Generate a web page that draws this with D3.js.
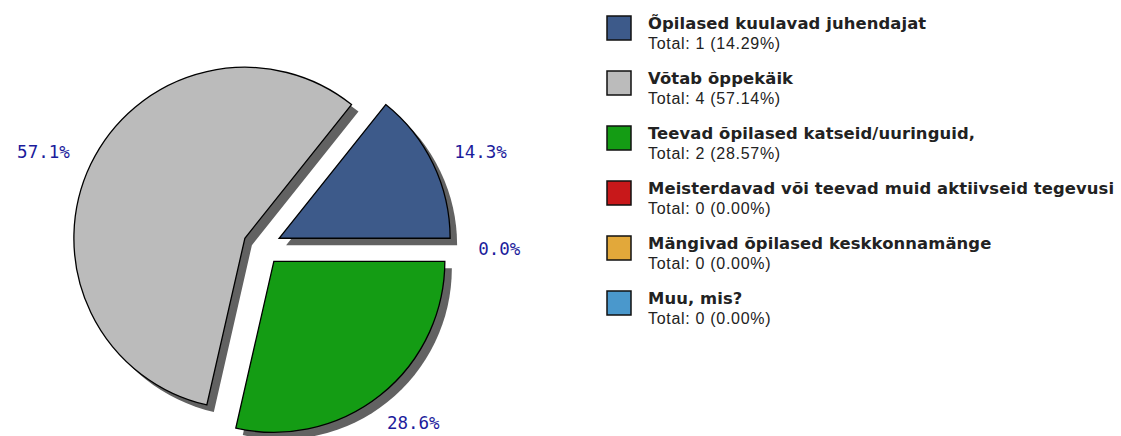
<!DOCTYPE html>
<html>
<head>
<meta charset="utf-8">
<script src="https://cdn.jsdelivr.net/npm/d3@7"></script>
<style>
  body { margin: 0; background: #fff; }
  svg { display: block; }
</style>
</head>
<body>
<svg id="chart"></svg>
<script>
const labels = [
  "Õpilased kuulavad juhendajat",
  "Võtab õppekäik",
  "Teevad õpilased katseid/uuringuid,",
  "Meisterdavad või teevad muid aktiivseid tegevusi",
  "Mängivad õpilased keskkonnamänge",
  "Muu, mis?"
];
const counts = [1, 4, 2, 0, 0, 0];
const colors = ["#3d5a8a", "#bbbbbb", "#149c14", "#c8181a", "#e2a83a", "#4a98cc"];

const width = 1121;
const height = 436;
const cx = 262, cy = 246.5;
const radius = 171;
const explode = 19;
const labelR = 216;

const svg = d3.select("#chart").attr("width", width).attr("height", height);

const total = d3.sum(counts);
const data = counts.map((v, i) => ({ name: labels[i], value: v, color: colors[i] }));

// starts at 3 o'clock and runs counter-clockwise
const pie = d3.pie()
  .sort(null)
  .value((d) => d.value)
  .startAngle(Math.PI / 2)
  .endAngle(Math.PI / 2 - 2 * Math.PI);

const arcs = pie(data);
const arc = d3.arc().innerRadius(0).outerRadius(radius);

const mid = (d) => (d.startAngle + d.endAngle) / 2;

const g = svg.append("g").attr("transform", `translate(${cx},${cy})`);

const shift = (d) => {
  const a = mid(d);
  return [Math.sin(a) * explode, -Math.cos(a) * explode];
};

const filled = arcs.filter((d) => d.value > 0);

// shadows first
g.append("g")
  .selectAll("path")
  .data(filled)
  .join("path")
  .attr("d", arc)
  .attr("fill", "#626262")
  .attr("transform", (d) => {
    const [x, y] = shift(d);
    return `translate(${x + 7},${y + 7})`;
  });

g.append("g")
  .selectAll("path")
  .data(filled)
  .join("path")
  .attr("d", arc)
  .attr("fill", (d) => d.data.color)
  .attr("stroke", "#000")
  .attr("stroke-width", 1.3)
  .attr("transform", (d) => {
    const [x, y] = shift(d);
    return `translate(${x},${y})`;
  });

// zero slices share one spot, draw their label once
const firstZero = arcs.find((d) => d.value === 0);
const labelArcs = arcs.filter((d) => d.value > 0 || d === firstZero);

const labelText = g.append("g")
  .selectAll("text")
  .data(labelArcs)
  .join("text")
  .attr("text-anchor", "middle")
  .attr("dominant-baseline", "central")
  .attr("font-family", "DejaVu Sans Mono, monospace")
  .attr("font-size", 17.5)
  .attr("fill", "#1c1c9c")
  .text((d) => (d.value / total * 100).toFixed(1) + "%");

// push each label box outward so its near side sits on the label radius
labelText.each(function (d) {
  const box = this.getBBox();
  const a = mid(d);
  const sx = Math.sin(a), sy = -Math.cos(a);
  d3.select(this)
    .attr("x", sx * (labelR + box.width / 2))
    .attr("y", sy * (labelR + 7) + 2);
});

// legend
const legend = svg.append("g").attr("transform", "translate(607,16)");
const item = legend.selectAll("g")
  .data(data)
  .join("g")
  .attr("transform", (d, i) => `translate(0,${i * 55})`);

item.append("rect")
  .attr("width", 24)
  .attr("height", 24)
  .attr("fill", (d) => d.color)
  .attr("stroke", "#111")
  .attr("stroke-width", 1.5);

item.append("text")
  .attr("x", 41)
  .attr("y", 13)
  .attr("font-family", "DejaVu Sans, sans-serif")
  .attr("font-weight", "bold")
  .attr("font-size", 16.4)
  .attr("letter-spacing", 0.1)
  .attr("fill", "#222")
  .text((d) => d.name);

item.append("text")
  .attr("x", 41)
  .attr("y", 33)
  .attr("font-family", "Liberation Sans, Arial, sans-serif")
  .attr("font-size", 16)
  .attr("letter-spacing", 0.7)
  .attr("fill", "#222")
  .text((d) => `Total: ${d.value} (${(d.value / total * 100).toFixed(2)}%)`);
</script>
</body>
</html>
